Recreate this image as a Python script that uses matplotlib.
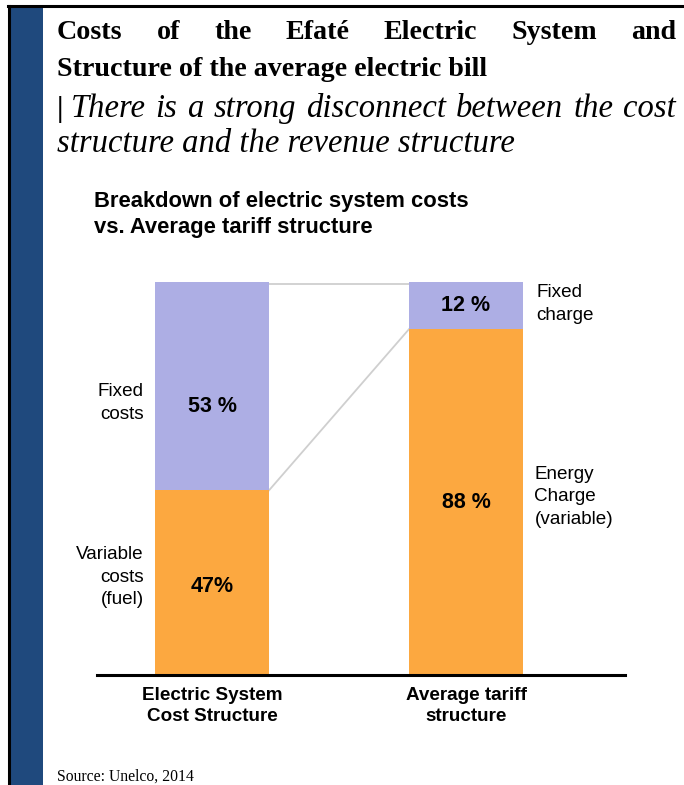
import matplotlib.pyplot as plt
from matplotlib.lines import Line2D
from matplotlib.patches import Rectangle

# ---------------- data ----------------
categories = ["Electric System\nCost Structure", "Average tariff\nstructure"]
variable_share = [47, 88]   # orange (bottom)
fixed_share = [53, 12]      # lavender (top)
variable_labels = ["47%", "88 %"]
fixed_labels = ["53 %", "12 %"]
side_fixed = ["Fixed\ncosts", "Fixed\ncharge"]
side_variable = ["Variable\ncosts\n(fuel)", "Energy\nCharge\n(variable)"]

ORANGE = "#FCA840"
LAVENDER = "#ADAEE4"
BLUE = "#1F497D"
GREY = "#CFCFCF"

W, H = 684, 785
fig = plt.figure(figsize=(W / 100, H / 100), dpi=100)
fig.patch.set_facecolor("white")


def fx(px):
    return px / W


def fy(py):
    return 1 - py / H


# ---------------- frame ----------------
fig.add_artist(Rectangle((fx(10), 0), fx(33), fy(7), transform=fig.transFigure,
                         color=BLUE, lw=0))
fig.add_artist(Line2D([fx(9), fx(9)], [0, fy(6)], transform=fig.transFigure,
                      color="black", lw=2.2))
fig.add_artist(Line2D([fx(8), 1], [fy(6), fy(6)], transform=fig.transFigure,
                      color="black", lw=2.2))

renderer = fig.canvas.get_renderer()


def justify(words, x0, x1, y, **kw):
    arts = [fig.text(0, fy(y), w, va="baseline", ha="left", **kw) for w in words]
    widths = [a.get_window_extent(renderer).width for a in arts]
    gap = (x1 - x0 - sum(widths)) / (len(words) - 1)
    x = x0
    for a, w in zip(arts, widths):
        a.set_x(fx(x))
        x += w + gap


serif = "Liberation Serif"
justify("Costs of the Efaté Electric System and".split(), 57, 676, 39,
        family=serif, fontweight="bold", fontsize=20.2)
fig.text(fx(57), fy(76), "Structure of the average electric bill", family=serif,
         fontweight="bold", fontsize=20.2, va="baseline")

bar = fig.text(fx(57), fy(117), "|", family=serif, fontweight="bold",
               fontsize=21, va="baseline")
bw = bar.get_window_extent(renderer).width
justify("There is a strong disconnect between the cost".split(), 57 + bw + 7, 676, 117,
        family=serif, style="italic", fontsize=23.5)
fig.text(fx(57), fy(152), "structure and the revenue structure", family=serif,
         style="italic", fontsize=23.5, va="baseline")

fig.text(fx(57), fy(781), "Source: Unelco, 2014", family=serif, fontsize=11.3,
         va="baseline")

# ---------------- chart ----------------
sans = "Liberation Sans"
fig.text(fx(94), fy(202), "Breakdown of electric system costs", family=sans,
         fontweight="bold", fontsize=15.8, va="center")
fig.text(fx(94), fy(228), "vs. Average tariff structure", family=sans,
         fontweight="bold", fontsize=15.8, va="center")

ax = fig.add_axes([fx(97), fy(675), fx(625) - fx(97), fy(282) - fy(675)])
x = [0, 1]
width = 0.449
ax.bar(x, variable_share, width, color=ORANGE, zorder=2)
ax.bar(x, fixed_share, width, bottom=variable_share, color=LAVENDER, zorder=2)
ax.set_xlim(-0.453, 1.626)
ax.set_ylim(0, 100)

# connectors between the two stacks
left_edge, right_edge = x[0] + width / 2, x[1] - width / 2
tops = [v + f for v, f in zip(variable_share, fixed_share)]
ax.plot([left_edge, right_edge], [tops[0] - 0.5, tops[1] - 0.5], color=GREY, lw=1.3,
        zorder=1, clip_on=False)
ax.plot([left_edge, right_edge], [variable_share[0], variable_share[1]], color=GREY,
        lw=1.3, zorder=1)

# value labels inside the stacks
val_kw = dict(ha="center", va="center", family=sans, fontweight="bold", fontsize=15.5)
ax.text(x[0], variable_share[0] * 0.48, variable_labels[0], **val_kw)
ax.text(x[0], variable_share[0] + fixed_share[0] * 0.4, fixed_labels[0], **val_kw)
ax.text(x[1], variable_share[1] / 2, variable_labels[1], **val_kw)
ax.text(x[1], variable_share[1] + fixed_share[1] / 2, fixed_labels[1], **val_kw)

# side annotations
side_kw = dict(va="center", family=sans, fontsize=13.6, linespacing=1.42)
ax.text(x[0] - width / 2 - 0.045, variable_share[0] + fixed_share[0] * 0.42,
        side_fixed[0], ha="right", **side_kw)
ax.text(x[0] - width / 2 - 0.045, variable_share[0] * 0.53, side_variable[0],
        ha="right", **side_kw)
ax.text(x[1] + width / 2 + 0.053, variable_share[1] + fixed_share[1] * 0.53,
        side_fixed[1], ha="left", **side_kw)
ax.text(x[1] + width / 2 + 0.045, variable_share[1] * 0.515, side_variable[1],
        ha="left", **side_kw)

for s in ["top", "right", "left"]:
    ax.spines[s].set_visible(False)
ax.spines["bottom"].set_linewidth(2.2)
ax.spines["bottom"].set_zorder(3)
ax.set_yticks([])
ax.set_xticks(x)
ax.set_xticklabels(categories, family=sans, fontweight="bold", fontsize=13.6,
                   linespacing=1.25)
ax.tick_params(axis="x", length=0, pad=9)
ax.set_facecolor("none")

fig.savefig("out.png", dpi=100, facecolor="white")
